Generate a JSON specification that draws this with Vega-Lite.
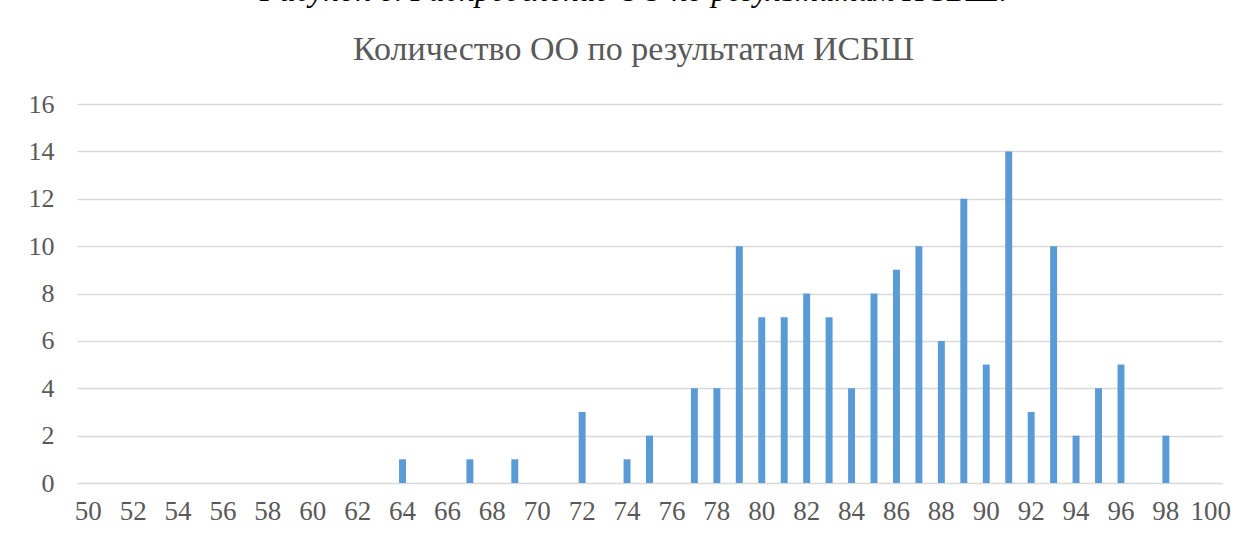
{
  "$schema": "https://vega.github.io/schema/vega-lite/v6.json",
  "width": 1145,
  "height": 379,
  "autosize": {"type": "none"},
  "padding": {"left": 77, "top": 104, "right": 27, "bottom": 60},
  "background": "white",
  "title": {
    "text": "Рисунок 6. Распределение ОО по результатам ИСБШ.",
    "subtitle": "Количество ОО по результатам ИСБШ",
    "anchor": "middle",
    "frame": "group",
    "dx": -16,
    "font": "Liberation Serif",
    "fontStyle": "italic",
    "fontWeight": "normal",
    "fontSize": 32,
    "color": "#000000",
    "subtitleFont": "Liberation Serif",
    "subtitleFontSize": 34,
    "subtitleColor": "#595959",
    "subtitlePadding": 25,
    "offset": 23
  },
  "data": {
    "values": [
      {"score": 50, "count": 0}, {"score": 51, "count": 0}, {"score": 52, "count": 0},
      {"score": 53, "count": 0}, {"score": 54, "count": 0}, {"score": 55, "count": 0},
      {"score": 56, "count": 0}, {"score": 57, "count": 0}, {"score": 58, "count": 0},
      {"score": 59, "count": 0}, {"score": 60, "count": 0}, {"score": 61, "count": 0},
      {"score": 62, "count": 0}, {"score": 63, "count": 0}, {"score": 64, "count": 1},
      {"score": 65, "count": 0}, {"score": 66, "count": 0}, {"score": 67, "count": 1},
      {"score": 68, "count": 0}, {"score": 69, "count": 1}, {"score": 70, "count": 0},
      {"score": 71, "count": 0}, {"score": 72, "count": 3}, {"score": 73, "count": 0},
      {"score": 74, "count": 1}, {"score": 75, "count": 2}, {"score": 76, "count": 0},
      {"score": 77, "count": 4}, {"score": 78, "count": 4}, {"score": 79, "count": 10},
      {"score": 80, "count": 7}, {"score": 81, "count": 7}, {"score": 82, "count": 8},
      {"score": 83, "count": 7}, {"score": 84, "count": 4}, {"score": 85, "count": 8},
      {"score": 86, "count": 9}, {"score": 87, "count": 10}, {"score": 88, "count": 6},
      {"score": 89, "count": 12}, {"score": 90, "count": 5}, {"score": 91, "count": 14},
      {"score": 92, "count": 3}, {"score": 93, "count": 10}, {"score": 94, "count": 2},
      {"score": 95, "count": 4}, {"score": 96, "count": 5}, {"score": 97, "count": 0},
      {"score": 98, "count": 2}, {"score": 99, "count": 0}, {"score": 100, "count": 0}
    ]
  },
  "mark": {"type": "bar", "color": "#5B9BD5"},
  "encoding": {
    "x": {
      "field": "score",
      "type": "ordinal",
      "sort": "ascending",
      "scale": {"paddingInner": 0.69, "paddingOuter": 0.345},
      "axis": {
        "title": null,
        "values": [50,52,54,56,58,60,62,64,66,68,70,72,74,76,78,80,82,84,86,88,90,92,94,96,98,100],
        "labelAngle": 0,
        "labelFont": "Liberation Serif",
        "labelFontSize": 27,
        "labelColor": "#595959",
        "labelPadding": 15,
        "ticks": false,
        "domain": false,
        "grid": false
      }
    },
    "y": {
      "field": "count",
      "type": "quantitative",
      "scale": {"domain": [0, 16], "nice": false},
      "axis": {
        "title": null,
        "values": [0,2,4,6,8,10,12,14,16],
        "labelFont": "Liberation Serif",
        "labelFontSize": 26,
        "labelColor": "#595959",
        "labelPadding": 23,
        "ticks": false,
        "domain": false,
        "grid": true,
        "gridColor": "#D9D9D9",
        "gridWidth": 1.5
      }
    }
  },
  "config": {
    "view": {"stroke": null}
  }
}
